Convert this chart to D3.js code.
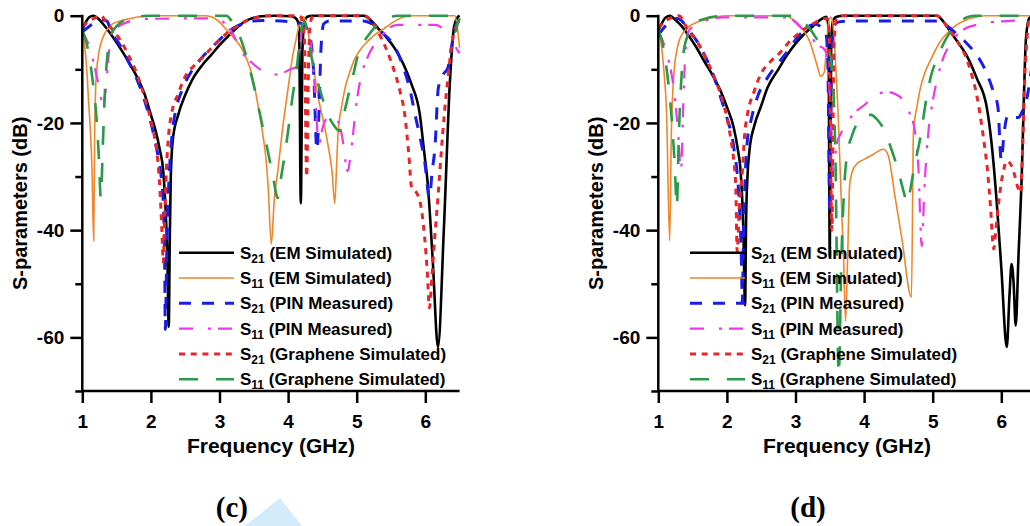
<!DOCTYPE html>
<html>
<head>
<meta charset="utf-8">
<script src="https://cdn.jsdelivr.net/npm/d3@7"></script>
<style>
  body { margin: 0; background: #fff; }
  svg { display: block; }
  .tick text { font-family: "Liberation Sans", Arial, sans-serif; font-weight: bold; font-size: 19px; fill: #000; }
  .lbl { font-family: "Liberation Sans", Arial, sans-serif; font-weight: bold; fill: #000; }
</style>
</head>
<body>
<svg id="chart" width="1030" height="526"></svg>
<script>
// ---- data: [frequency GHz, dB] ----
const xTicks = [1, 2, 3, 4, 5, 6];
const yMajor = [0, -20, -40, -60];
const yMinor = [-10, -30, -50, -70];
const legendNames = ["(EM Simulated)", "(EM Simulated)", "(PIN Measured)", "(PIN Measured)", "(Graphene Simulated)", "(Graphene Simulated)"];
const legendSubs = ["21", "11", "21", "11", "21", "11"];

// panel (c)
const c_s21_em = [[1.0,-2.6],[1.06,-1.0],[1.1,-0.3],[1.16,0],[1.22,-0.4],[1.3,-1.5],[1.42,-3.5],[1.55,-6],[1.67,-8.5],[1.8,-11.5],[1.91,-14.7],[2.0,-18.5],[2.06,-21],[2.13,-25],[2.18,-29],[2.21,-35],[2.24,-45],[2.26,-58],[2.275,-42],[2.29,-30],[2.32,-23],[2.4,-18.4],[2.5,-14.8],[2.6,-12],[2.75,-9.2],[2.88,-7.3],[3.0,-5.5],[3.12,-3.9],[3.25,-2.3],[3.37,-1.05],[3.5,-0.4],[3.61,-0.1],[3.8,0],[4.05,-0.1],[4.12,-0.6],[4.16,-2],[4.185,-35],[4.21,-6],[4.24,-1],[4.28,-0.2],[4.35,0],[5.1,0],[5.2,-0.8],[5.31,-2.3],[5.43,-4],[5.55,-6],[5.68,-9],[5.8,-12.8],[5.92,-18.4],[5.98,-25],[6.04,-32],[6.11,-46],[6.185,-61.8],[6.27,-40],[6.36,-12],[6.42,-2],[6.47,-0.3],[6.5,0]];
const c_s11_em = [[1.0,-1.5],[1.02,-3.5],[1.04,-6.3],[1.07,-11],[1.09,-15.6],[1.12,-22],[1.14,-28],[1.166,-42],[1.18,-22],[1.2,-12],[1.24,-7],[1.28,-4.8],[1.35,-2.8],[1.42,-1.7],[1.55,-1],[1.67,-0.6],[1.9,-0.1],[2.0,0],[2.8,0],[2.9,-0.3],[3.0,-1.2],[3.08,-2.3],[3.2,-4],[3.3,-5.6],[3.37,-7.3],[3.45,-10],[3.5,-12.5],[3.56,-16.6],[3.63,-22],[3.68,-27],[3.71,-32],[3.755,-42.6],[3.8,-34],[3.85,-29],[3.92,-21],[4.0,-13.5],[4.06,-8],[4.12,-4.2],[4.16,-1.8],[4.19,-0.4],[4.22,-0.2],[4.25,-0.8],[4.27,-1.7],[4.35,-8],[4.44,-15.3],[4.52,-20],[4.58,-24],[4.64,-29],[4.68,-35],[4.71,-27],[4.73,-21.5],[4.78,-17],[4.83,-13.5],[4.9,-10.5],[4.97,-8.1],[5.06,-6.2],[5.16,-4.8],[5.28,-3.4],[5.41,-2.3],[5.52,-1.3],[5.65,-0.4],[5.8,0],[6.43,0],[6.46,-1.5],[6.5,-6]];
const c_s21_pin = [[1.0,-3],[1.1,-2],[1.2,-1.2],[1.3,-0.8],[1.36,-1],[1.42,-3],[1.55,-5.5],[1.67,-8.5],[1.8,-12],[1.91,-15.9],[2.0,-20],[2.1,-25.9],[2.15,-30],[2.18,-35],[2.2,-45],[2.21,-58.5],[2.23,-45],[2.25,-35],[2.27,-29],[2.31,-22],[2.35,-18.4],[2.45,-14],[2.59,-10.4],[2.73,-8],[2.88,-6],[3.0,-4.5],[3.12,-3],[3.25,-2],[3.37,-1.4],[3.5,-1],[3.61,-0.9],[4.0,-1.1],[4.1,-1.2],[4.2,-1.5],[4.3,-3],[4.37,-10],[4.42,-25],[4.45,-18],[4.48,-6],[4.52,-1.5],[4.6,-1],[5.1,-1],[5.2,-1.4],[5.31,-2.3],[5.4,-3.5],[5.5,-4.8],[5.6,-7],[5.7,-10.4],[5.78,-14],[5.85,-18.4],[5.92,-22.5],[5.99,-27.1],[6.06,-33.9],[6.1,-29],[6.14,-24.7],[6.19,-13.5],[6.26,-11],[6.33,-9.7],[6.38,-6],[6.42,-3],[6.46,-1.5],[6.5,-1]];
const c_s11_pin = [[1.0,-3],[1.08,-5],[1.16,-8.5],[1.24,-13],[1.3,-16.5],[1.34,-14],[1.38,-8],[1.42,-3.6],[1.5,-2.2],[1.57,-1.7],[1.7,-1],[1.9,-0.6],[2.9,-0.5],[3.0,-0.7],[3.1,-1.8],[3.2,-3.5],[3.3,-6.3],[3.45,-8.5],[3.59,-10],[3.75,-11],[3.9,-10.8],[4.03,-10],[4.13,-9.5],[4.18,-5],[4.22,-1.5],[4.27,-1.5],[4.32,-4],[4.38,-12],[4.45,-24],[4.5,-21],[4.58,-19],[4.68,-18.8],[4.78,-22],[4.87,-29],[4.92,-25],[5.0,-16],[5.07,-11],[5.15,-8],[5.25,-5.5],[5.35,-4],[5.45,-2.5],[5.6,-1.7],[6.15,-1.7],[6.25,-2.3],[6.33,-3],[6.4,-4.2],[6.45,-6],[6.5,-7]];
const c_s21_gr = [[1.0,-2],[1.1,-1],[1.2,-0.3],[1.27,0],[1.33,-0.8],[1.42,-2.3],[1.55,-4.5],[1.67,-7.3],[1.8,-11],[1.91,-15.3],[2.0,-19.5],[2.055,-22.8],[2.1,-27],[2.13,-32],[2.16,-40],[2.18,-46],[2.2,-38],[2.225,-29],[2.26,-22],[2.3,-18.4],[2.4,-14.5],[2.49,-11.6],[2.64,-9.2],[2.79,-7.3],[2.9,-5.8],[3.03,-4.2],[3.12,-3.1],[3.22,-2.3],[3.4,-0.9],[3.56,-0.3],[3.7,0],[4.15,0],[4.2,-0.5],[4.24,-5],[4.27,-30],[4.3,-8],[4.33,-1],[4.37,0],[5.12,0],[5.2,-0.8],[5.28,-2.3],[5.36,-4.2],[5.45,-6.8],[5.55,-10.4],[5.63,-14],[5.7,-18.4],[5.76,-26],[5.8,-32],[5.87,-33],[5.92,-34.5],[5.99,-41.3],[6.03,-48],[6.06,-54.5],[6.1,-48],[6.14,-41],[6.19,-33],[6.23,-25.9],[6.28,-18],[6.33,-11.6],[6.4,-4.2],[6.45,-2],[6.48,-1],[6.5,-0.5]];
const c_s11_gr = [[1.0,-2.8],[1.05,-4.5],[1.1,-7.5],[1.15,-12],[1.2,-18],[1.24,-26],[1.27,-34],[1.3,-24],[1.33,-14],[1.37,-7],[1.42,-3.6],[1.52,-1.7],[1.62,-0.8],[1.8,-0.2],[1.95,0],[3.1,0],[3.2,-1.5],[3.3,-4],[3.4,-8],[3.5,-13],[3.6,-19],[3.7,-25],[3.78,-30],[3.85,-34],[3.9,-30],[3.95,-26],[4.0,-21.5],[4.06,-15.5],[4.12,-10.4],[4.17,-5],[4.21,-1.7],[4.24,-1.2],[4.28,-3],[4.33,-7],[4.39,-10.4],[4.48,-14.5],[4.58,-18.4],[4.67,-20.5],[4.75,-21.5],[4.81,-18.5],[4.87,-15.3],[4.95,-11],[5.02,-7.3],[5.1,-5],[5.21,-3],[5.3,-1.6],[5.4,-0.7],[5.5,-0.2],[5.6,0],[6.35,0],[6.4,-1],[6.44,-3],[6.47,-1.5],[6.5,-0.5]];

// panel (d)
const d_s21_em = [[1.0,-2.8],[1.06,-1.2],[1.1,-0.4],[1.166,0],[1.25,-0.8],[1.33,-1.8],[1.42,-3.3],[1.55,-5.8],[1.67,-8.5],[1.8,-11.3],[1.91,-14.1],[2.0,-17],[2.1,-20.9],[2.16,-25],[2.2,-29],[2.24,-40],[2.265,-54],[2.28,-38],[2.3,-30],[2.33,-25],[2.4,-20.5],[2.5,-16.8],[2.59,-13.5],[2.75,-10],[2.88,-7.3],[3.0,-5.2],[3.12,-3.5],[3.25,-2],[3.37,-0.7],[3.45,-0.2],[3.48,-2],[3.5,-45],[3.52,-5],[3.55,-0.8],[3.6,-0.2],[3.7,0],[5.06,0],[5.15,-1],[5.25,-2.8],[5.37,-5],[5.49,-7.3],[5.64,-11.6],[5.79,-17.2],[5.86,-24],[5.93,-34.2],[6.0,-47],[6.08,-61.8],[6.12,-52],[6.15,-46.3],[6.18,-50],[6.21,-57.8],[6.25,-45],[6.3,-29],[6.33,-15],[6.36,-4.2],[6.41,-0.4],[6.5,0]];
const d_s11_em = [[1.0,-1.7],[1.04,-5],[1.08,-10],[1.12,-18],[1.166,-42],[1.19,-22],[1.23,-10.4],[1.27,-6.5],[1.3,-4.8],[1.36,-3.2],[1.42,-2.3],[1.55,-1.3],[1.67,-0.8],[1.85,-0.2],[2.0,0],[2.85,0],[2.95,-0.6],[3.05,-1.6],[3.12,-2.8],[3.2,-4.6],[3.27,-7.3],[3.32,-9.5],[3.37,-11.3],[3.42,-10.5],[3.45,-6],[3.48,-1.5],[3.51,-0.3],[3.54,-1],[3.58,-8],[3.62,-18],[3.66,-32],[3.7,-45],[3.73,-57],[3.76,-45],[3.79,-31.4],[3.83,-29],[3.89,-27.7],[4.0,-26.8],[4.13,-25.9],[4.28,-24.9],[4.35,-26],[4.45,-33.7],[4.55,-41.5],[4.69,-52.5],[4.72,-21.5],[4.77,-17],[4.82,-13.5],[4.89,-10.5],[4.96,-8.5],[5.11,-4.8],[5.23,-3],[5.35,-1.7],[5.47,-0.9],[5.59,-0.4],[5.75,0],[6.5,0]];
const d_s21_pin = [[1.0,-3.6],[1.1,-2],[1.2,-1],[1.27,-0.5],[1.33,-0.8],[1.42,-2.3],[1.55,-4.5],[1.7,-8],[1.8,-11],[1.91,-15.3],[2.0,-19],[2.1,-24.6],[2.18,-35],[2.21,-45],[2.225,-53.6],[2.24,-42],[2.27,-29],[2.3,-23],[2.35,-19.6],[2.45,-15],[2.59,-11.6],[2.75,-8.8],[2.88,-6.7],[3.0,-4.5],[3.12,-2.8],[3.22,-1.8],[3.3,-1.6],[3.38,-2.2],[3.44,-3],[3.47,-8],[3.5,-37],[3.53,-6],[3.56,-2],[3.62,-1.2],[3.8,-1],[5.1,-1],[5.2,-1.8],[5.35,-3.4],[5.47,-4.8],[5.59,-6.5],[5.7,-8.5],[5.79,-10.8],[5.88,-14],[5.95,-17],[6.0,-27],[6.04,-22],[6.08,-19],[6.12,-18.5],[6.18,-19],[6.25,-19],[6.3,-18],[6.37,-15.6],[6.44,-10],[6.5,-5]];
const d_s11_pin = [[1.0,-3.2],[1.06,-4.5],[1.12,-7],[1.18,-10],[1.24,-15],[1.29,-22],[1.33,-29],[1.37,-14],[1.4,-6],[1.44,-3],[1.55,-1.6],[1.67,-1],[1.8,-0.5],[1.95,-0.3],[2.9,-0.3],[2.98,-1],[3.1,-2.5],[3.22,-3.6],[3.31,-5.5],[3.4,-6],[3.45,-7],[3.5,-15],[3.55,-29],[3.6,-24],[3.66,-22],[3.73,-20.5],[3.84,-18.4],[4.0,-16.7],[4.15,-15],[4.33,-14.2],[4.45,-14.6],[4.57,-15.8],[4.67,-18.4],[4.74,-21.5],[4.79,-28],[4.84,-43],[4.88,-32],[4.93,-22.7],[5.0,-16],[5.06,-12.2],[5.15,-8],[5.25,-5.4],[5.36,-3.5],[5.49,-2.3],[5.64,-1.7],[5.79,-1.3],[6.08,-1],[6.5,-0.8]];
const d_s21_gr = [[1.0,-2.3],[1.1,-1],[1.2,-0.3],[1.3,0],[1.36,-0.8],[1.42,-2.5],[1.55,-4.5],[1.67,-7.3],[1.8,-11],[1.91,-14.7],[2.0,-19],[2.055,-22.8],[2.1,-27],[2.13,-32],[2.15,-44],[2.18,-36],[2.225,-29],[2.26,-22],[2.3,-18.4],[2.4,-14],[2.49,-11],[2.64,-8.5],[2.79,-6.7],[2.9,-5],[3.03,-3.5],[3.15,-2.3],[3.27,-1.4],[3.4,-0.6],[3.46,-0.5],[3.49,-3],[3.53,-40],[3.56,-6],[3.6,-0.5],[3.7,0],[5.06,0],[5.15,-1],[5.25,-2.8],[5.37,-5],[5.49,-7.9],[5.58,-11.5],[5.64,-14.7],[5.74,-22.8],[5.8,-29],[5.84,-35.2],[5.89,-43.5],[5.92,-40],[5.96,-35],[6.03,-29],[6.08,-27.1],[6.15,-28],[6.2,-30],[6.24,-32],[6.28,-33],[6.31,-25],[6.34,-12],[6.37,-5],[6.4,-1],[6.45,0],[6.5,0]];
const d_s11_gr = [[1.0,-2.6],[1.05,-4.5],[1.1,-8],[1.15,-13],[1.2,-20],[1.24,-28],[1.27,-35.7],[1.3,-22],[1.34,-11],[1.37,-6.7],[1.42,-4],[1.47,-2.6],[1.55,-1.3],[1.67,-0.6],[1.85,-0.1],[2.0,0],[2.98,0],[3.1,-1],[3.22,-2.6],[3.32,-4.5],[3.42,-5.5],[3.48,-6],[3.53,-10],[3.58,-25],[3.63,-67],[3.67,-45],[3.71,-32],[3.75,-26],[3.82,-22.5],[3.9,-20],[4.0,-18.8],[4.1,-18.5],[4.2,-19.5],[4.3,-21.5],[4.4,-25],[4.5,-29],[4.58,-33],[4.63,-35],[4.68,-32],[4.72,-29],[4.82,-22.7],[4.91,-15.3],[4.98,-11],[5.06,-8.1],[5.2,-4.2],[5.3,-2.3],[5.4,-1],[5.5,-0.3],[5.6,0],[6.5,0]];

// ---- styles ----
const styles = [
  { color: "#000000", width: 2.6, dash: null },           // S21 EM
  { color: "#f0862a", width: 1.6, dash: null },           // S11 EM
  { color: "#1c1ce8", width: 3, dash: "12,11" },          // S21 PIN
  { color: "#ec38ec", width: 2.2, dash: "14,15,3,7" },    // S11 PIN
  { color: "#e8262a", width: 3, dash: "6,5.7" },          // S21 graphene
  { color: "#2a9a48", width: 2.6, dash: "19,18" }         // S11 graphene
];

const svg = d3.select("#chart");

const panels = [
  { left: 82.3, label: "(c)", series: [c_s21_em, c_s11_em, c_s21_pin, c_s11_pin, c_s21_gr, c_s11_gr], legX: 179 },
  { left: 658.3, label: "(d)", series: [d_s21_em, d_s11_em, d_s21_pin, d_s11_pin, d_s21_gr, d_s11_gr], legX: 690 }
];

const plotTop = 15.7, plotBottom = 391;

// watermark (light blue triangle near (c))
svg.append("path")
  .attr("d", "M280,498 L245,526 L302,526 Z")
  .attr("fill", "#d3ebfb");

panels.forEach(p => {
  const x = d3.scaleLinear().domain([1, 6.5]).range([p.left, p.left + 5.5 * 68.6]);
  const y = d3.scaleLinear().domain([-70, 0]).range([plotBottom, plotTop]);

  const g = svg.append("g");

  // curves
  const line = d3.line().x(d => x(d[0])).y(d => y(d[1])).curve(d3.curveMonotoneX);
  p.series.forEach((s, i) => {
    g.append("path")
      .datum(s)
      .attr("d", line)
      .attr("fill", "none")
      .attr("stroke", styles[i].color)
      .attr("stroke-width", styles[i].width)
      .attr("stroke-dasharray", styles[i].dash)
      .attr("stroke-linejoin", "round");
  });

  // axes
  const ax = g.append("g").attr("transform", `translate(0,${plotBottom})`)
    .call(d3.axisBottom(x).tickValues(xTicks).tickFormat(d => String(d))
      .tickSize(12).tickPadding(12).tickSizeOuter(0));
  const ay = g.append("g").attr("transform", `translate(${p.left},0)`)
    .call(d3.axisLeft(y).tickValues(yMajor).tickFormat(d => String(d))
      .tickSize(12).tickPadding(6).tickSizeOuter(0));
  const ayMinor = g.append("g").attr("transform", `translate(${p.left},0)`)
    .call(d3.axisLeft(y).tickValues(yMinor).tickSize(7).tickFormat("").tickSizeOuter(0));
  ayMinor.select(".domain").remove();
  [ax, ay, ayMinor].forEach(a => {
    a.selectAll("path, line").attr("stroke", "#000").attr("stroke-width", 2.5);
  });
  ax.select(".domain").attr("d", `M${x(1) - 1.2},0H${x(6.5)}`);
  ay.select(".domain").attr("d", `M0,${y(0) - 1}V${plotBottom + 1.2}`);

  // axis titles
  g.append("text").attr("class", "lbl")
    .attr("x", (x(1) + x(6.5)) / 2).attr("y", 453)
    .attr("text-anchor", "middle").attr("font-size", 21)
    .text("Frequency (GHz)");
  g.append("text").attr("class", "lbl")
    .attr("transform", `translate(${p.left - 55},${(plotTop + plotBottom) / 2}) rotate(-90)`)
    .attr("text-anchor", "middle").attr("font-size", 20)
    .text("S-parameters (dB)");

  // legend
  legendNames.forEach((name, i) => {
    const ly = 252.7 + i * 25.3;
    g.append("line")
      .attr("x1", p.legX).attr("x2", p.legX + 55)
      .attr("y1", ly).attr("y2", ly)
      .attr("stroke", styles[i].color)
      .attr("stroke-width", styles[i].width)
      .attr("stroke-dasharray", styles[i].dash);
    const t = g.append("text").attr("class", "lbl")
      .attr("x", p.legX + 61).attr("y", ly + 6).attr("font-size", 17);
    t.append("tspan").text("S");
    t.append("tspan").attr("font-size", 12).attr("dy", 4).text(legendSubs[i]);
    t.append("tspan").attr("dy", -4).text(" " + name);
  });

  // panel label
  svg.append("text")
    .attr("x", (x(1) + x(6.5)) / 2 - 39).attr("y", 517)
    .attr("text-anchor", "middle")
    .attr("font-family", "'Liberation Serif', 'Times New Roman', serif")
    .attr("font-weight", "bold").attr("font-size", 29)
    .text(p.label);
});
</script>
</body>
</html>
